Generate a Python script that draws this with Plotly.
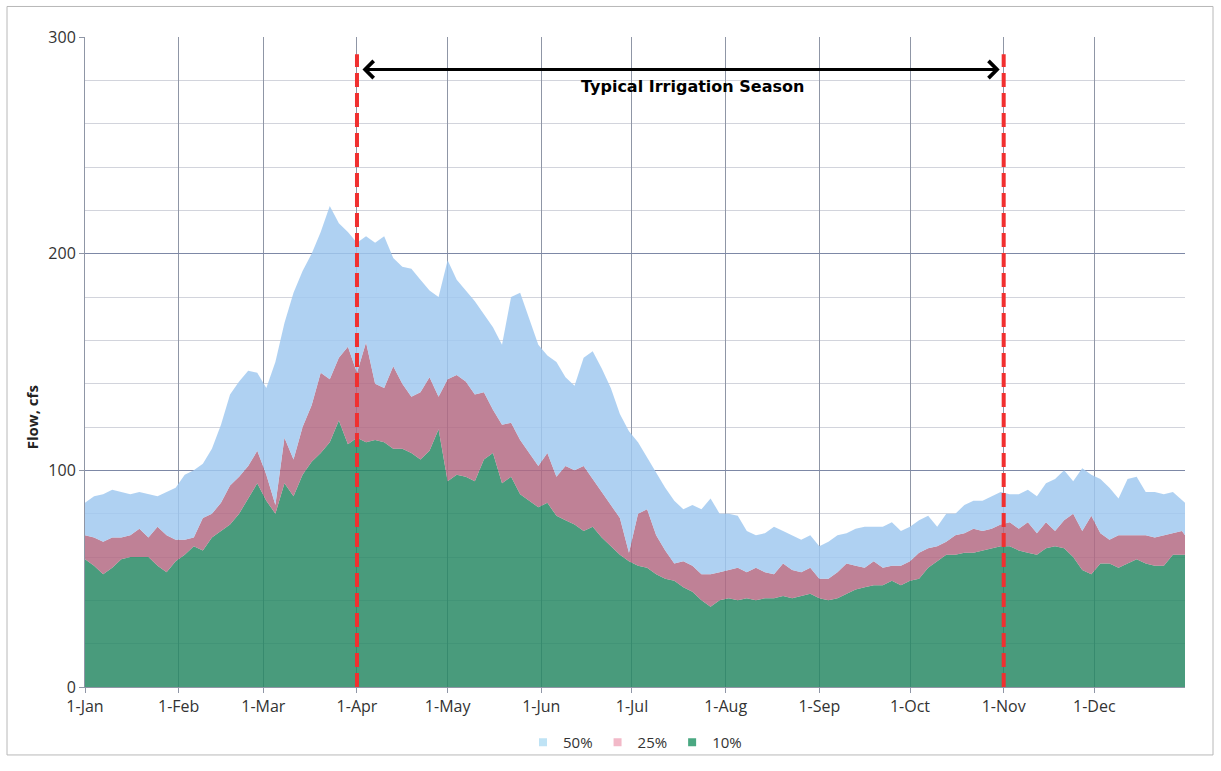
import pandas as pd
import plotly.graph_objects as go

# ---------------- data ----------------
DAYS = list(range(0, 364, 3)) + [364]   # day of year, 0 = 1-Jan

FLOW_50 = [85, 88, 89, 91, 90, 89, 90, 89, 88, 90,
           92, 98, 100, 103, 110, 121, 135, 141, 146, 145,
           138, 150, 168, 182, 192, 200, 210, 222, 214, 210,
           205, 208, 205, 208, 198, 194, 193, 188, 183, 180,
           197, 188, 183, 178, 172, 166, 158, 180, 182, 170,
           158, 153, 150, 143, 139, 152, 155, 147, 138, 126,
           118, 113, 106, 99, 92, 86, 82, 84, 82, 87,
           80, 80, 79, 72, 70, 71, 74, 72, 70, 68,
           70, 65, 67, 70, 71, 73, 74, 74, 74, 76,
           72, 74, 77, 79, 74, 80, 80, 84, 86, 86,
           88, 90, 89, 89, 91, 88, 94, 96, 100, 95,
           101, 98, 96, 92, 87, 96, 97, 90, 90, 89,
           90, 86, 85]

FLOW_25 = [70, 69, 67, 69, 69, 70, 73, 69, 74, 70,
           68, 68, 69, 78, 80, 85, 93, 97, 102, 109,
           98, 84, 115, 105, 120, 130, 145, 142, 152, 157,
           145, 159, 140, 138, 148, 140, 134, 136, 143, 134,
           142, 144, 141, 135, 136, 128, 121, 122, 114, 108,
           102, 108, 97, 102, 100, 102, 96, 90, 84, 78,
           62, 80, 82, 70, 63, 57, 58, 56, 52, 52,
           53, 54, 55, 53, 55, 53, 52, 57, 54, 53,
           55, 50, 50, 53, 57, 56, 55, 58, 55, 56,
           56, 58, 62, 64, 65, 67, 70, 71, 73, 72,
           73, 75, 76, 73, 76, 71, 76, 72, 77, 80,
           72, 79, 71, 68, 70, 70, 70, 70, 69, 70,
           71, 72, 70]

FLOW_10 = [59, 56, 52, 55, 59, 60, 60, 60, 56, 53,
           58, 61, 65, 63, 69, 72, 75, 80, 87, 94,
           86, 80, 94, 88, 98, 104, 108, 113, 123, 112,
           115, 113, 114, 113, 110, 110, 108, 105, 109, 119,
           95, 98, 97, 95, 105, 108, 94, 97, 89, 86,
           83, 85, 79, 77, 75, 72, 74, 69, 65, 61,
           58, 56, 55, 52, 50, 49, 46, 44, 40, 37,
           40, 41, 40, 41, 40, 41, 41, 42, 41, 42,
           43, 41, 40, 41, 43, 45, 46, 47, 47, 49,
           47, 49, 50, 55, 58, 61, 61, 62, 62, 63,
           64, 65, 65, 63, 62, 61, 64, 65, 64, 60,
           54, 52, 57, 57, 55, 57, 59, 57, 56, 56,
           61, 61, 61]

SERIES_NAMES = ["10%", "25%", "50%"]
LEGEND_ORDER = ["50%", "25%", "10%"]
SEASON_START = "2011-04-01"
SEASON_END = "2011-11-01"
SEASON_LABEL = "Typical Irrigation Season"
Y_TICKS = [0, 100, 200, 300]

# ---------------- figure ----------------
dates = pd.Timestamp("2011-01-01") + pd.to_timedelta(DAYS, unit="D")

fills = {
    "10%": "rgba(38,136,99,0.84)",
    "25%": "rgba(179,105,130,0.84)",
    "50%": "rgba(160,200,240,0.84)",
}
legend_cols = {"10%": "#4aa882", "25%": "#f2b9c8", "50%": "#bfe3f5"}

fig = go.Figure()
for i, (name, vals) in enumerate(zip(SERIES_NAMES, [FLOW_10, FLOW_25, FLOW_50])):
    fig.add_trace(go.Scatter(
        x=dates, y=vals, name=name, mode="lines",
        line=dict(width=0, color=fills[name]),
        fill="tozeroy" if i == 0 else "tonexty",
        fillcolor=fills[name],
        showlegend=False, hoverinfo="x+y+name",
    ))
# legend entries (small squares)
for name in LEGEND_ORDER:
    fig.add_trace(go.Scatter(
        x=[None], y=[None], mode="markers", name=name,
        marker=dict(symbol="square", size=8, color=legend_cols[name]),
        showlegend=True,
    ))

# irrigation season markers
for d in [SEASON_START, SEASON_END]:
    fig.add_shape(type="line", xref="x", yref="y", x0=d, x1=d, y0=0, y1=292,
                  line=dict(color="#f03030", width=4, dash="14px,6px"), layer="above")

fig.add_annotation(x=SEASON_END, y=285, ax=SEASON_START, ay=285,
                   xref="x", yref="y", axref="x", ayref="y", text="",
                   showarrow=True, arrowside="end+start", arrowhead=4, startarrowhead=4,
                   arrowsize=1.1, startarrowsize=1.1, arrowwidth=3, arrowcolor="black",
                   standoff=4, startstandoff=4)
fig.add_annotation(x=0.552, y=277, xref="paper", yref="y", text="<b>" + SEASON_LABEL + "</b>",
                   showarrow=False, xanchor="center",
                   font=dict(family="DejaVu Sans", size=16, color="black"))

# y-axis title
fig.add_annotation(x=(32 - 85) / 1100, y=0.415, xref="paper", yref="paper",
                   text="<b>Flow, cfs</b>", textangle=-90, showarrow=False,
                   xanchor="center", yanchor="middle",
                   font=dict(family="Open Sans", size=15, color="#222"))

# outer frame
fig.add_shape(type="rect", xref="paper", yref="paper",
              x0=(7 - 85) / 1100, x1=(1213 - 85) / 1100,
              y0=(697 - 766) / 660, y1=(697 - 6) / 660,
              line=dict(color="#b8b8b8", width=1), layer="below")

fig.update_layout(
    width=1221, height=771,
    margin=dict(l=85, r=36, t=37, b=74),
    paper_bgcolor="white", plot_bgcolor="white",
    font=dict(family="Open Sans", size=13, color="#333"),
    legend=dict(orientation="h", traceorder="normal",
                x=0.5, xanchor="center", y=-0.06, yanchor="top",
                bgcolor="rgba(0,0,0,0)",
                font=dict(size=15, color="#333"), tracegroupgap=0, itemwidth=30),
    showlegend=True,
)
fig.update_xaxes(
    type="date", range=["2011-01-01", "2011-12-31"],
    tick0="2011-01-01", dtick="M1", tickformat="%-d-%b",
    showgrid=True, gridcolor="#8f96a6", gridwidth=1,
    ticks="outside", ticklen=5, tickcolor="#8f96a6",
    showline=True, linecolor="#8f96a6", linewidth=1,
    tickfont=dict(size=16, color="#333"), zeroline=False,
)
fig.update_yaxes(
    range=[0, 300], tickvals=Y_TICKS,
    showgrid=True, gridcolor="#7d88a6", gridwidth=1,
    minor=dict(dtick=20, showgrid=True, gridcolor="#d2d4dc", gridwidth=1),
    ticks="outside", ticklen=5, tickcolor="#8f96a6",
    showline=True, linecolor="#8f96a6", linewidth=1,
    tickfont=dict(size=16, color="#333"), zeroline=False,
)

# remove the default page margin so the 1221x771 figure fills the window exactly
PAGE_FIX = ("document.body.style.margin='0';"
            "document.body.style.overflow='hidden';"
            "document.documentElement.style.overflow='hidden';")
fig.write_html("out.html", post_script=PAGE_FIX, config={"displayModeBar": False})
